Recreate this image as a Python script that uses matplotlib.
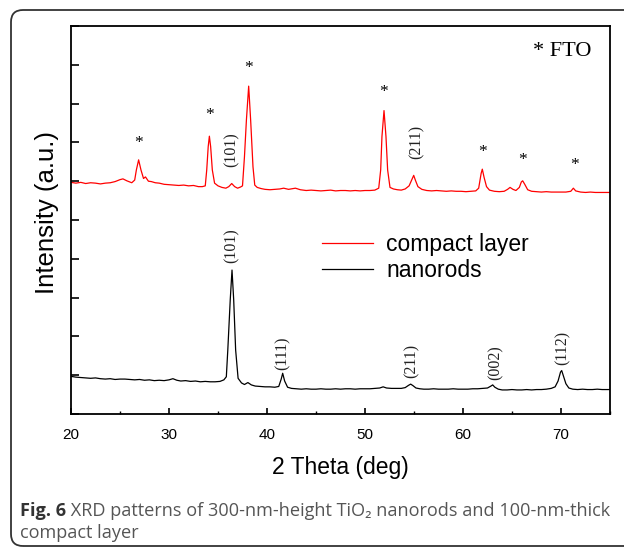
import matplotlib
matplotlib.use("Agg")
import matplotlib.pyplot as plt
from matplotlib.patches import FancyBboxPatch
from matplotlib.ticker import MultipleLocator

# compact layer (red) trace: 2theta (deg), intensity (a.u.)
compact_theta = [20.0, 20.5, 21.0, 21.5, 22.0, 22.5, 23.0, 23.5, 24.0, 24.5, 25.0, 25.3, 25.7, 26.2,
                 26.5, 26.67, 26.9, 27.14, 27.4, 27.6, 27.9, 28.2, 28.6, 29.0, 29.5, 30.0, 30.5, 31.0,
                 31.5, 32.0, 32.5, 33.0, 33.4, 33.7, 33.85, 34.0, 34.12, 34.25, 34.42, 34.65, 35.0,
                 35.4, 35.8, 36.1, 36.4, 36.7, 37.0, 37.3, 37.5, 37.7, 37.9, 38.13, 38.33, 38.57,
                 38.75, 39.0, 39.4, 39.8, 40.3, 40.8, 41.3, 41.7, 42.2, 42.9, 43.4, 44.0, 44.5, 45.0,
                 45.5, 46.0, 46.5, 47.0, 47.5, 48.0, 48.5, 49.0, 49.5, 50.0, 50.5, 51.0, 51.4, 51.6,
                 51.73, 51.94, 52.14, 52.31, 52.55, 52.9, 53.3, 53.7, 54.1, 54.5, 54.8, 54.97, 55.15,
                 55.4, 55.8, 56.3, 56.8, 57.3, 57.8, 58.3, 58.8, 59.3, 59.8, 60.3, 60.8, 61.3, 61.6,
                 61.85, 61.97, 62.15, 62.4, 62.7, 63.2, 63.7, 64.2, 64.55, 64.8, 65.1, 65.4, 65.75,
                 65.95, 66.09, 66.3, 66.6, 67.0, 67.5, 68.0, 68.5, 69.0, 69.5, 70.0, 70.5, 71.0,
                 71.26, 71.5, 72.0, 72.5, 73.0, 73.5, 74.0, 74.5, 75.0]
compact_int = [5.97, 5.95, 5.97, 5.94, 5.96, 5.95, 5.93, 5.95, 5.96, 5.99, 6.04, 6.06, 6.01, 5.96,
               6.03, 6.29, 6.55, 6.29, 6.07, 6.11, 6.00, 5.99, 5.96, 5.95, 5.92, 5.91, 5.90, 5.89,
               5.90, 5.88, 5.89, 5.86, 5.86, 5.88, 6.29, 6.89, 7.16, 6.89, 6.29, 5.95, 5.88,
               5.84, 5.82, 5.86, 5.94, 5.86, 5.82, 5.85, 5.88, 6.63, 7.58, 8.45, 7.58, 6.37,
               5.90, 5.84, 5.81, 5.79, 5.78, 5.79, 5.80, 5.82, 5.79, 5.82, 5.78, 5.76, 5.77, 5.76,
               5.75, 5.76, 5.77, 5.75, 5.76, 5.76, 5.75, 5.76, 5.75, 5.76, 5.76, 5.77, 5.82, 6.29,
               7.15, 7.82, 7.15, 6.29, 5.84, 5.80, 5.78, 5.77, 5.80, 5.88, 6.05, 6.15, 6.02,
               5.86, 5.79, 5.76, 5.75, 5.76, 5.75, 5.74, 5.75, 5.74, 5.74, 5.73, 5.74, 5.75, 5.82,
               6.20, 6.31, 6.10, 5.86, 5.77, 5.74, 5.73, 5.74, 5.79, 5.84, 5.79, 5.76, 5.84,
               5.98, 6.01, 5.92, 5.78, 5.74, 5.73, 5.72, 5.73, 5.72, 5.72, 5.72, 5.72, 5.74,
               5.82, 5.75, 5.72, 5.71, 5.72, 5.71, 5.71, 5.71, 5.71]

# nanorods (black) trace
rods_theta = [20.0, 20.5, 21.0, 21.5, 22.0, 22.5, 23.0, 23.5, 24.0, 24.5, 25.0, 25.5, 26.0, 26.5,
              27.0, 27.5, 28.0, 28.5, 29.0, 29.5, 30.0, 30.4, 30.8, 31.2, 31.7, 32.2, 32.7, 33.2,
              33.7, 34.2, 34.7, 35.2, 35.6, 35.85, 36.0, 36.25, 36.43, 36.6, 36.8, 37.05, 37.4,
              37.7, 38.05, 38.4, 38.8, 39.3, 39.8, 40.3, 40.8, 41.2, 41.45, 41.6, 41.8, 42.1,
              42.5, 43.0, 43.5, 44.0, 44.5, 45.0, 45.5, 46.0, 46.5, 47.0, 47.5, 48.0, 48.5, 49.0,
              49.5, 50.0, 50.5, 51.0, 51.5, 51.85, 52.2, 52.7, 53.2, 53.7, 54.1, 54.45, 54.66,
              54.9, 55.2, 55.6, 56.0, 56.5, 57.0, 57.5, 58.0, 58.5, 59.0, 59.5, 60.0, 60.5, 61.0,
              61.5, 62.0, 62.5, 62.85, 63.03, 63.25, 63.6, 64.0, 64.5, 65.0, 65.5, 66.0, 66.5,
              67.0, 67.5, 68.0, 68.5, 69.0, 69.4, 69.7, 69.95, 70.07, 70.25, 70.5, 70.8, 71.2,
              71.7, 72.2, 72.7, 73.2, 73.7, 74.2, 74.7, 75.0]
rods_int = [0.97, 0.95, 0.94, 0.93, 0.92, 0.93, 0.91, 0.90, 0.91, 0.89, 0.90, 0.90, 0.89, 0.88,
            0.89, 0.87, 0.88, 0.86, 0.87, 0.86, 0.88, 0.91, 0.87, 0.85, 0.86, 0.84, 0.85, 0.83,
            0.84, 0.83, 0.83, 0.84, 0.88, 0.96, 1.65, 2.95, 3.71, 2.95, 1.65, 0.92, 0.80,
            0.76, 0.81, 0.75, 0.72, 0.71, 0.70, 0.70, 0.69, 0.71, 0.90, 1.05, 0.85, 0.69,
            0.66, 0.65, 0.64, 0.65, 0.64, 0.64, 0.65, 0.64, 0.64, 0.65, 0.64, 0.65, 0.65, 0.64,
            0.65, 0.65, 0.65, 0.66, 0.67, 0.70, 0.67, 0.66, 0.66, 0.66, 0.68, 0.74, 0.77,
            0.73, 0.67, 0.65, 0.64, 0.64, 0.65, 0.64, 0.64, 0.64, 0.65, 0.64, 0.64, 0.64, 0.65,
            0.65, 0.66, 0.67, 0.72, 0.75, 0.69, 0.64, 0.62, 0.62, 0.63, 0.62, 0.62, 0.63,
            0.62, 0.63, 0.63, 0.64, 0.66, 0.70, 0.85, 1.08, 1.12, 0.98, 0.78, 0.67, 0.64,
            0.63, 0.64, 0.63, 0.63, 0.64, 0.63, 0.63, 0.63]

# FTO reflections (asterisks) on the compact layer trace
fto_theta = [26.9, 34.12, 38.13, 51.94, 61.97, 66.09, 71.4]
fto_y = [6.98, 7.71, 8.92, 8.30, 6.75, 6.55, 6.42]

# anatase reflection labels: text, theta, bottom of label
rods_labels = ["(101)", "(111)", "(211)", "(002)", "(112)"]
rods_label_theta = [36.4, 41.6, 54.75, 63.35, 70.2]
rods_label_y = [3.89, 1.13, 0.93, 0.88, 1.26]
compact_labels = ["(101)", "(211)"]
compact_label_theta = [36.4, 55.3]
compact_label_y = [6.37, 6.57]

W, H = 624, 548
fig = plt.figure(figsize=(W / 100, H / 100), dpi=100)
ax = fig.add_axes([71 / W, (H - 414) / H, 539 / W, 388 / H])

sans = ["Liberation Sans", "DejaVu Sans"]
serif = ["Liberation Serif", "DejaVu Serif"]

ax.plot(compact_theta, compact_int, color="#ff0000", lw=0.9, label="compact layer")
ax.plot(rods_theta, rods_int, color="black", lw=0.9, label="nanorods")

for t, y in zip(fto_theta, fto_y):
    ax.text(t, y, "*", ha="center", va="center", fontsize=12.5, family=serif)
for s, t, y in zip(rods_labels, rods_label_theta, rods_label_y):
    ax.text(t, y, s, rotation=90, ha="center", va="bottom", fontsize=11.5, family=serif, color="#222222")
for s, t, y in zip(compact_labels, compact_label_theta, compact_label_y):
    ax.text(t, y, s, rotation=90, ha="center", va="bottom", fontsize=11.5, family=serif, color="#222222")

ax.text(0.965, 0.935, "* FTO", transform=ax.transAxes, ha="right", va="center",
        fontsize=16, family=serif)

ax.set_xlim(20, 75)
ax.set_ylim(0, 10)
ax.xaxis.set_major_locator(MultipleLocator(10))
ax.xaxis.set_minor_locator(MultipleLocator(5))
ax.yaxis.set_major_locator(MultipleLocator(1))
ax.tick_params(axis="x", which="major", direction="in", length=4.5, width=1.2, pad=10,
               labelsize=11)
ax.tick_params(axis="x", which="minor", direction="in", length=2.5, width=1.0)
ax.tick_params(axis="y", which="major", direction="in", length=6, width=1.2, labelleft=False)
for lab in ax.get_xticklabels():
    lab.set_family(sans)
for sp in ax.spines.values():
    sp.set_linewidth(1.3)

ax.set_xlabel("2 Theta (deg)", fontsize=16.5, family=sans, labelpad=10)
fig.text(47 / W, (H - 212) / H, "Intensity (a.u.)", rotation=90, ha="center", va="center",
         fontsize=18.5, family=sans)

leg = ax.legend(loc="upper left", bbox_to_anchor=(0.466, 0.467), frameon=False,
                prop={"family": sans, "size": 16.5}, handlelength=2.2, handletextpad=0.6,
                labelspacing=0.15, borderpad=0, borderaxespad=0)

# rounded frame around figure and caption
frame = FancyBboxPatch((11, 2), 640, 536, boxstyle="round,pad=0,rounding_size=12",
                       transform=None, fill=False, edgecolor="#333333", lw=1.3, clip_on=False)
fig.patches.append(frame)

cap = ["Open Sans", "DejaVu Sans"]
cap_size = 13.1
t1 = fig.text(20 / W, (H - 516) / H, "Fig. 6", fontsize=cap_size, family=cap, weight="bold",
              color="#333333", va="baseline")
ax.annotate(" XRD patterns of 300-nm-height TiO\u2082 nanorods and 100-nm-thick",
            xy=(1, 0), xycoords=t1, va="bottom", ha="left", fontsize=cap_size, family=cap,
            color="#555555", annotation_clip=False)
fig.text(20 / W, (H - 538) / H, "compact layer", fontsize=cap_size, family=cap, color="#555555",
         va="baseline")

fig.savefig("out.png", dpi=100)
